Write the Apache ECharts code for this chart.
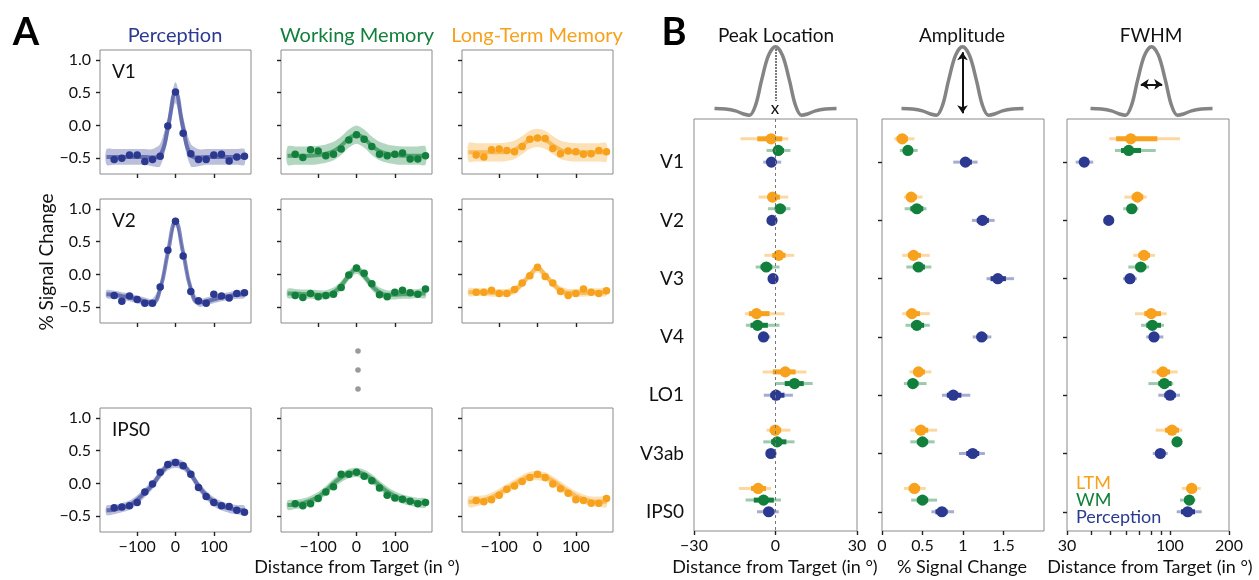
<!DOCTYPE html>
<html>
<head>
<meta charset="utf-8">
<title>Tuning curves by condition</title>
<script src="https://cdn.jsdelivr.net/npm/echarts@6/dist/echarts.min.js"></script>
<style>
html, body { margin: 0; padding: 0; background: #fff; }
#chart { width: 1259px; height: 580px; }
</style>
</head>
<body>
<div id="chart"></div>
<script>
// ---------- panel A : tuning curves ----------
const dotX = [-160, -140, -120, -100, -80, -60, -40, -20, 0, 20, 40, 60, 80, 100, 120, 140, 160, 180]
const fitX = [-180, -160, -140, -120, -100, -80, -60, -40, -20, 0, 20, 40, 60, 80, 100, 120, 140, 160, 180]

const percV1 = [-0.52, -0.50, -0.45, -0.45, -0.55, -0.52, -0.47, -0.01, 0.51, -0.12, -0.43, -0.52, -0.52, -0.45, -0.44, -0.54, -0.48, -0.47]
const percV1Fit = [-0.48, -0.48, -0.48, -0.48, -0.48, -0.48, -0.49, -0.45, -0.04, 0.50, -0.04, -0.45, -0.49, -0.48, -0.48, -0.48, -0.48, -0.48, -0.48]
const percV1Band = [0.12, 0.12, 0.12, 0.12, 0.12, 0.12, 0.13, 0.17, 0.17, 0.16, 0.17, 0.17, 0.13, 0.12, 0.12, 0.12, 0.12, 0.12, 0.12]
const wmV1 = [-0.44, -0.49, -0.37, -0.39, -0.46, -0.44, -0.36, -0.22, -0.14, -0.21, -0.32, -0.44, -0.46, -0.44, -0.42, -0.51, -0.51, -0.46]
const wmV1Fit = [-0.46, -0.46, -0.46, -0.46, -0.45, -0.43, -0.39, -0.31, -0.20, -0.14, -0.20, -0.31, -0.39, -0.43, -0.45, -0.46, -0.46, -0.46, -0.46]
const wmV1Band = [0.14, 0.14, 0.14, 0.14, 0.14, 0.14, 0.14, 0.14, 0.14, 0.14, 0.14, 0.14, 0.14, 0.14, 0.14, 0.14, 0.14, 0.14, 0.14]
const ltmV1 = [-0.45, -0.48, -0.37, -0.36, -0.38, -0.40, -0.32, -0.21, -0.19, -0.20, -0.35, -0.43, -0.39, -0.40, -0.44, -0.43, -0.38, -0.40]
const ltmV1Fit = [-0.41, -0.41, -0.41, -0.41, -0.41, -0.40, -0.37, -0.30, -0.22, -0.19, -0.22, -0.30, -0.37, -0.40, -0.41, -0.41, -0.41, -0.41, -0.41]
const ltmV1Band = [0.14, 0.14, 0.14, 0.14, 0.14, 0.14, 0.14, 0.14, 0.14, 0.14, 0.14, 0.14, 0.14, 0.14, 0.14, 0.14, 0.14, 0.14, 0.14]

const percV2 = [-0.32, -0.41, -0.33, -0.38, -0.44, -0.44, -0.19, 0.37, 0.81, 0.28, -0.26, -0.40, -0.44, -0.30, -0.33, -0.36, -0.29, -0.28]
const percV2Fit = [-0.30, -0.31, -0.33, -0.35, -0.38, -0.41, -0.43, -0.22, 0.33, 0.80, 0.33, -0.22, -0.43, -0.41, -0.38, -0.35, -0.33, -0.31, -0.30]
const percV2Band = [0.06, 0.06, 0.06, 0.06, 0.06, 0.06, 0.06, 0.07, 0.07, 0.07, 0.07, 0.07, 0.06, 0.06, 0.06, 0.06, 0.06, 0.06, 0.06]
const wmV2 = [-0.32, -0.35, -0.29, -0.34, -0.32, -0.30, -0.20, -0.01, 0.10, 0.02, -0.14, -0.31, -0.34, -0.27, -0.24, -0.28, -0.30, -0.22]
const wmV2Fit = [-0.29, -0.29, -0.30, -0.30, -0.31, -0.31, -0.27, -0.17, -0.02, 0.08, -0.02, -0.17, -0.27, -0.31, -0.31, -0.30, -0.30, -0.29, -0.29]
const wmV2Band = [0.07, 0.07, 0.07, 0.07, 0.07, 0.07, 0.07, 0.07, 0.07, 0.07, 0.07, 0.07, 0.07, 0.07, 0.07, 0.07, 0.07, 0.07, 0.07]
const ltmV2 = [-0.27, -0.27, -0.24, -0.29, -0.29, -0.23, -0.13, -0.02, 0.11, -0.03, -0.13, -0.26, -0.32, -0.29, -0.22, -0.27, -0.29, -0.25]
const ltmV2Fit = [-0.27, -0.27, -0.27, -0.28, -0.28, -0.28, -0.24, -0.14, -0.01, 0.09, -0.01, -0.14, -0.24, -0.28, -0.28, -0.28, -0.27, -0.27, -0.27]
const ltmV2Band = [0.06, 0.06, 0.06, 0.06, 0.06, 0.06, 0.06, 0.06, 0.06, 0.06, 0.06, 0.06, 0.06, 0.06, 0.06, 0.06, 0.06, 0.06, 0.06]

const percIPS0 = [-0.37, -0.36, -0.34, -0.29, -0.13, -0.01, 0.17, 0.29, 0.32, 0.27, 0.14, -0.06, -0.20, -0.29, -0.34, -0.35, -0.41, -0.44]
const percIPS0Fit = [-0.41, -0.40, -0.37, -0.33, -0.25, -0.14, -0.02, 0.14, 0.27, 0.31, 0.27, 0.14, -0.04, -0.18, -0.28, -0.34, -0.38, -0.40, -0.41]
const percIPS0Band = [0.07, 0.07, 0.07, 0.07, 0.07, 0.07, 0.07, 0.07, 0.07, 0.07, 0.07, 0.07, 0.07, 0.07, 0.07, 0.07, 0.07, 0.07, 0.07]
const wmIPS0 = [-0.31, -0.34, -0.31, -0.23, -0.13, -0.05, 0.14, 0.14, 0.17, 0.11, 0.04, -0.07, -0.18, -0.22, -0.24, -0.27, -0.31, -0.29]
const wmIPS0Fit = [-0.33, -0.32, -0.30, -0.26, -0.20, -0.11, 0.00, 0.09, 0.15, 0.17, 0.14, 0.07, -0.03, -0.12, -0.19, -0.24, -0.27, -0.29, -0.30]
const wmIPS0Band = [0.07, 0.07, 0.07, 0.07, 0.07, 0.07, 0.07, 0.07, 0.07, 0.07, 0.07, 0.07, 0.07, 0.07, 0.07, 0.07, 0.07, 0.07, 0.07]
const ltmIPS0 = [-0.26, -0.28, -0.25, -0.18, -0.09, -0.04, 0.03, 0.09, 0.14, 0.09, -0.01, -0.08, -0.15, -0.25, -0.26, -0.30, -0.30, -0.23]
const ltmIPS0Fit = [-0.28, -0.27, -0.25, -0.21, -0.15, -0.08, -0.01, 0.06, 0.11, 0.12, 0.10, 0.04, -0.04, -0.12, -0.19, -0.24, -0.27, -0.28, -0.28]
const ltmIPS0Band = [0.08, 0.08, 0.07, 0.07, 0.07, 0.07, 0.07, 0.07, 0.07, 0.07, 0.07, 0.07, 0.07, 0.07, 0.07, 0.07, 0.07, 0.08, 0.08]

const rowNames = ['V1', 'V2', 'IPS0']
const tickA_y = [-0.5, 0, 0.5, 1.0]
const tickA_x = [-100, 0, 100]

// ---------- panel B : fit parameters ----------
const regions = ['V1', 'V2', 'V3', 'V4', 'LO1', 'V3ab', 'IPS0']
// each row: [estimate, inner low, inner high, outer low, outer high]
const peakLTM = [[-1.6, -6.7, 2.5, -12.9, 4.7], [-1.1, -2.7, 1.6, -6.2, 4.7], [1.2, -1.2, 3.7, -4.1, 6.9], [-7.0, -9.8, -2.2, -11.3, 3.3], [3.6, -1.0, 7.4, -4.7, 11.4], [-0.1, -2.1, 2.1, -3.3, 5.5], [-6.4, -9.0, -3.5, -13.5, -1.6]]
const peakWM = [[1.0, -0.6, 3.1, -3.3, 5.5], [1.7, 0.0, 3.7, -2.8, 5.5], [-3.4, -5.5, -1.2, -7.3, 1.5], [-6.6, -9.2, -2.8, -10.9, 1.5], [7.0, 3.4, 10.4, -0.2, 13.7], [0.6, -1.6, 4.0, -4.5, 7.0], [-4.4, -8.0, -0.6, -11.0, 2.0]]
const peakPerc = [[-1.5, -2.5, -0.5, -4.5, 2.1], [-1.3, -2.3, -0.3, -3.0, 0.5], [-0.9, -1.8, 0.0, -2.3, 0.5], [-4.4, -5.5, -3.1, -6.5, -1.9], [0.2, -1.9, 3.3, -4.3, 6.4], [-1.7, -2.5, -0.8, -3.0, 0.0], [-2.5, -4.4, -0.4, -6.8, 1.2]]
const ampLTM = [[0.25, 0.18, 0.32, 0.15, 0.40], [0.36, 0.30, 0.43, 0.27, 0.50], [0.39, 0.32, 0.48, 0.25, 0.59], [0.37, 0.30, 0.47, 0.25, 0.59], [0.45, 0.39, 0.53, 0.34, 0.61], [0.48, 0.41, 0.57, 0.35, 0.68], [0.40, 0.33, 0.47, 0.27, 0.54]]
const ampWM = [[0.32, 0.26, 0.38, 0.22, 0.44], [0.43, 0.35, 0.51, 0.28, 0.55], [0.45, 0.38, 0.53, 0.30, 0.61], [0.43, 0.36, 0.52, 0.29, 0.59], [0.38, 0.32, 0.45, 0.27, 0.55], [0.50, 0.43, 0.57, 0.35, 0.65], [0.50, 0.43, 0.57, 0.36, 0.68]]
const ampPerc = [[1.03, 0.97, 1.11, 0.88, 1.18], [1.24, 1.17, 1.32, 1.11, 1.39], [1.43, 1.34, 1.53, 1.29, 1.63], [1.23, 1.18, 1.30, 1.12, 1.35], [0.88, 0.80, 0.98, 0.74, 1.09], [1.12, 1.04, 1.20, 0.95, 1.27], [0.74, 0.66, 0.81, 0.61, 0.89]]
const fwhmLTM = [[63.3, 53.3, 86.4, 49.2, 112.7], [68.4, 64.0, 73.3, 58.7, 76.3], [73.9, 69.2, 79.3, 65.2, 84.1], [80.5, 74.2, 90.2, 66.5, 96.5], [92.3, 85.8, 100.3, 80.9, 109.7], [102.6, 94.6, 111.4, 84.8, 115.8], [129.2, 121.9, 137.0, 115.0, 143.6]]
const fwhmWM = [[61.8, 56.5, 71.4, 52.6, 84.8], [64.0, 61.1, 67.1, 58.0, 69.2], [71.1, 67.0, 75.9, 61.5, 78.4], [81.5, 75.9, 90.2, 71.4, 93.4], [93.8, 87.4, 102.1, 77.8, 104.2], [108.8, 105.0, 112.0, 104.0, 113.0], [125.7, 118.5, 132.5, 112.7, 135.0]]
const fwhmPerc = [[36.7, 34.9, 38.8, 33.2, 40.8], [48.9, 47.5, 50.3, 46.5, 51.5], [62.7, 59.2, 66.5, 57.8, 68.0], [83.1, 78.4, 87.4, 75.9, 92.7], [100.3, 93.8, 107.3, 87.4, 112.7], [89.5, 84.8, 94.6, 81.9, 97.6], [123.3, 114.0, 134.3, 108.4, 145.3]]

const peakTicks = [-30, 0, 30]
const ampTicks = [0, 0.5, 1, 1.5]
const fwhmTicks = [30, 40, 50, 60, 70, 80, 90, 100, 200]
const fwhmLabels = [30, 100, 200]

// schematic tuning curve drawn above panel B
const iconX = [-61, -50, -40, -32, -26, -20, -14, -7, 0, 7, 14, 20, 26, 32, 40, 50, 61]
const iconY = [0, -0.01, -0.04, -0.09, -0.11, 0.05, 0.45, 0.86, 1, 0.86, 0.45, 0.05, -0.11, -0.09, -0.04, -0.01, 0]

const colP = '#2b3990'
const colWM = '#12803c'
const colLTM = '#f7a11c'
const FONT = 'Lato'
const tickStyle = { color: '#222', width: 1.4 }

const minus = (s) => s.replace('-', '\u2212')

const chart = echarts.init(document.getElementById('chart'))

const grids = []
const xAxes = []
const yAxes = []
const series = []
const graphics = []

// panel A layout
const colLeft = [100, 281, 462]
const rowTop = [50, 199, 408]
const panelsA = [
  [percV1, percV1Fit, percV1Band, colP], [wmV1, wmV1Fit, wmV1Band, colWM], [ltmV1, ltmV1Fit, ltmV1Band, colLTM],
  [percV2, percV2Fit, percV2Band, colP], [wmV2, wmV2Fit, wmV2Band, colWM], [ltmV2, ltmV2Fit, ltmV2Band, colLTM],
  [percIPS0, percIPS0Fit, percIPS0Band, colP], [wmIPS0, wmIPS0Fit, wmIPS0Band, colWM], [ltmIPS0, ltmIPS0Fit, ltmIPS0Band, colLTM]
]

// shaded band around the fit, drawn once as a smoothed polygon
function bandItem(fit, band, color) {
  return function (params, api) {
    if (params.dataIndex !== 0) return null
    const up = fitX.map((x, i) => api.coord([x, fit[i] + band[i]]))
    const lo = fitX.map((x, i) => api.coord([x, fit[i] - band[i]])).reverse()
    return {
      type: 'polygon',
      shape: { points: up.concat(lo), smooth: 0.3 },
      style: { fill: color, opacity: 0.32 }
    }
  }
}

panelsA.forEach((p, k) => {
  const row = Math.floor(k / 3)
  const col = k % 3
  const [dots, fit, band, color] = p
  grids.push({ left: colLeft[col], top: rowTop[row], width: 151, height: 124, show: true, borderColor: '#8a8a8a', borderWidth: 1, containLabel: false })
  xAxes.push({
    gridIndex: k, type: 'value', min: -197, max: 197, position: 'bottom',
    axisLine: { show: false, onZero: false },
    axisTick: { show: true, customValues: tickA_x, length: 4, lineStyle: tickStyle },
    axisLabel: { show: row === 2, customValues: tickA_x, formatter: v => minus(String(v)), fontSize: 16, color: '#111', fontFamily: FONT, margin: 7 },
    splitLine: { show: false }
  })
  yAxes.push({
    gridIndex: k, type: 'value', min: -0.74, max: 1.15, position: 'left',
    axisLine: { show: false, onZero: false },
    axisTick: { show: true, customValues: tickA_y, length: 4, lineStyle: tickStyle },
    axisLabel: { show: col === 0, customValues: tickA_y, formatter: v => minus(v.toFixed(1)), fontSize: 16, color: '#111', fontFamily: FONT, margin: 9 },
    splitLine: { show: false }
  })
  series.push({
    type: 'custom', xAxisIndex: k, yAxisIndex: k, silent: true,
    renderItem: bandItem(fit, band, color),
    encode: { x: 0, y: [1, 2] },
    data: fitX.map((x, i) => [x, fit[i] - band[i], fit[i] + band[i]])
  })
  series.push({
    type: 'line', xAxisIndex: k, yAxisIndex: k,
    data: fitX.map((x, i) => [x, fit[i]]),
    smooth: true, symbol: 'none', lineStyle: { color: color, width: 4, opacity: 0.6 }, silent: true
  })
  series.push({
    type: 'scatter', xAxisIndex: k, yAxisIndex: k,
    data: dotX.map((x, i) => [x, dots[i]]),
    symbolSize: 7.5, itemStyle: { color: color, opacity: 1 }
  })
  if (col === 0) {
    graphics.push({ type: 'text', x: colLeft[0] + 12, y: rowTop[row] + 22, style: { text: rowNames[row], font: '19px ' + FONT, fill: '#111', textVerticalAlign: 'middle', verticalAlign: 'middle' } })
  }
})

// panel B
const bLeft = [694, 882, 1067]
const bWidth = [163, 162, 162]
const bTop = 119
const bHeight = 412
const offLTM = -0.4
const offWM = -0.2
const offP = 0

function errItem(color) {
  return function (params, api) {
    const y = api.value(1)
    const c = api.coord([api.value(0), y])
    const il = api.coord([api.value(2), y])
    const ih = api.coord([api.value(3), y])
    const ol = api.coord([api.value(4), y])
    const oh = api.coord([api.value(5), y])
    return {
      type: 'group',
      children: [
        { type: 'line', shape: { x1: ol[0], y1: c[1], x2: oh[0], y2: c[1] }, style: { stroke: color, lineWidth: 3, opacity: 0.42 } },
        { type: 'line', shape: { x1: il[0], y1: c[1], x2: ih[0], y2: c[1] }, style: { stroke: color, lineWidth: 5 } },
        { type: 'circle', shape: { cx: c[0], cy: c[1], r: 5.6 }, style: { fill: color } }
      ]
    }
  }
}

function errSeries(g, rows, color, off) {
  return {
    type: 'custom', xAxisIndex: g, yAxisIndex: g, clip: false,
    renderItem: errItem(color),
    encode: { x: [0, 2, 3, 4, 5], y: 1 },
    data: rows.map((r, i) => [r[0], i + off, r[1], r[2], r[3], r[4]])
  }
}

const panelsB = [
  { ltm: peakLTM, wm: peakWM, p: peakPerc },
  { ltm: ampLTM, wm: ampWM, p: ampPerc },
  { ltm: fwhmLTM, wm: fwhmWM, p: fwhmPerc }
]

panelsB.forEach((p, j) => {
  const g = 9 + j
  grids.push({ left: bLeft[j], top: bTop, width: bWidth[j], height: bHeight, show: true, borderColor: '#8a8a8a', borderWidth: 1 })
  let xa
  if (j === 0) {
    xa = { type: 'value', min: -30, max: 30,
      axisTick: { customValues: peakTicks }, axisLabel: { customValues: peakTicks, formatter: v => minus(String(v)) } }
  } else if (j === 1) {
    xa = { type: 'value', min: 0, max: 2,
      axisTick: { customValues: ampTicks }, axisLabel: { customValues: ampTicks, formatter: v => String(v) } }
  } else {
    xa = { type: 'log', logBase: 10, min: 30, max: 200,
      axisTick: { customValues: fwhmTicks }, axisLabel: { customValues: fwhmLabels, formatter: v => String(Math.round(v)) } }
  }
  xa.gridIndex = g
  xa.position = 'bottom'
  xa.axisLine = { show: false, onZero: false }
  xa.splitLine = { show: false }
  xa.minorTick = { show: false }
  Object.assign(xa.axisTick, { show: true, length: 4, lineStyle: tickStyle })
  Object.assign(xa.axisLabel, { show: true, fontSize: 16, color: '#111', fontFamily: FONT, margin: 7 })
  xAxes.push(xa)
  yAxes.push({
    gridIndex: g, type: 'value', inverse: true, min: -0.74, max: 6.33, position: 'left',
    axisLine: { show: false, onZero: false }, splitLine: { show: false },
    axisTick: { show: j > 0, customValues: [0, 1, 2, 3, 4, 5, 6], length: 4, lineStyle: tickStyle },
    axisLabel: { show: j === 0, customValues: [0, 1, 2, 3, 4, 5, 6], formatter: v => regions[Math.round(v)], fontSize: 19, color: '#111', fontFamily: FONT, margin: 10 }
  })
  const sL = errSeries(g, p.ltm, colLTM, offLTM)
  if (j === 0) {
    sL.markLine = { silent: true, symbol: 'none', label: { show: false }, data: [{ xAxis: 0 }], lineStyle: { color: '#777', type: [3, 3], width: 1 } }
  }
  series.push(sL)
  series.push(errSeries(g, p.wm, colWM, offWM))
  series.push(errSeries(g, p.p, colP, offP))
})

// schematic icons above panel B
const iconCenter = [775.5, 962.5, 1151.5]
const iconMarks = [
  { symbol: ['none', 'none'], data: [[{ coord: [0, 0.96] }, { coord: [0, 0.12] }]], lineStyle: { color: '#111', type: 'dotted', width: 1.5 } },
  { symbol: ['arrow', 'arrow'], data: [[{ coord: [0, -0.08] }, { coord: [0, 0.91] }]], lineStyle: { color: '#111', type: 'solid', width: 2 } },
  { symbol: ['arrow', 'arrow'], data: [[{ coord: [-10.7, 0.39] }, { coord: [10.7, 0.39] }]], lineStyle: { color: '#111', type: 'solid', width: 2 } }
]
iconCenter.forEach((cx, j) => {
  const g = 12 + j
  grids.push({ left: cx - 61, top: 46.7, width: 122, height: 68.5, show: false })
  xAxes.push({ gridIndex: g, type: 'value', min: -61, max: 61, show: false })
  yAxes.push({ gridIndex: g, type: 'value', min: -0.11, max: 1, show: false })
  series.push({
    type: 'line', xAxisIndex: g, yAxisIndex: g, clip: false, silent: true,
    data: iconX.map((x, i) => [x, iconY[i]]),
    smooth: 0.35, symbol: 'none', lineStyle: { color: '#848484', width: 3.5 },
    markLine: Object.assign({ silent: true, symbolSize: [8, 8], label: { show: false }, animation: false }, iconMarks[j])
  })
})

// texts
function txt(x, y, text, size, color, opts) {
  const o = Object.assign({ align: 'center', weight: 'normal', rotation: 0 }, opts || {})
  graphics.push({
    type: 'text', x: x, y: y, rotation: o.rotation,
    style: { text: text, font: o.weight + ' ' + size + 'px ' + FONT, fill: color, textAlign: o.align, align: o.align, textVerticalAlign: 'middle', verticalAlign: 'middle' }
  })
}
txt(26, 33, 'A', 38, '#000', { weight: 'bold' })
txt(674, 33, 'B', 38, '#000', { weight: 'bold' })
txt(175, 36, 'Perception', 20, colP)
txt(357, 36, 'Working Memory', 20, colWM)
txt(537, 36, 'Long-Term Memory', 20, colLTM)
txt(776, 36, 'Peak Location', 19, '#111')
txt(962, 36, 'Amplitude', 19, '#111')
txt(1151, 36, 'FWHM', 19, '#111')
txt(775, 109, 'x', 17, '#111')
txt(47, 262, '% Signal Change', 19, '#111', { rotation: Math.PI / 2 })
txt(357, 567, 'Distance from Target (in °)', 18, '#111')
txt(775, 567, 'Distance from Target (in °)', 18, '#111')
txt(962, 567, '% Signal Change', 18, '#111')
txt(1150, 567, 'Distance from Target (in °)', 18, '#111')
txt(1076, 483, 'LTM', 18, colLTM, { align: 'left' })
txt(1076, 500, 'WM', 18, colWM, { align: 'left' })
txt(1076, 517, 'Perception', 18, colP, { align: 'left' })
const ellipsisY = [351, 370, 389]
ellipsisY.forEach(y => graphics.push({ type: 'circle', shape: { cx: 358, cy: y, r: 2.8 }, style: { fill: '#9a9a9a' } }))

chart.setOption({
  animation: false,
  backgroundColor: '#fff',
  grid: grids,
  xAxis: xAxes,
  yAxis: yAxes,
  series: series,
  graphic: graphics
})
</script>
</body>
</html>
